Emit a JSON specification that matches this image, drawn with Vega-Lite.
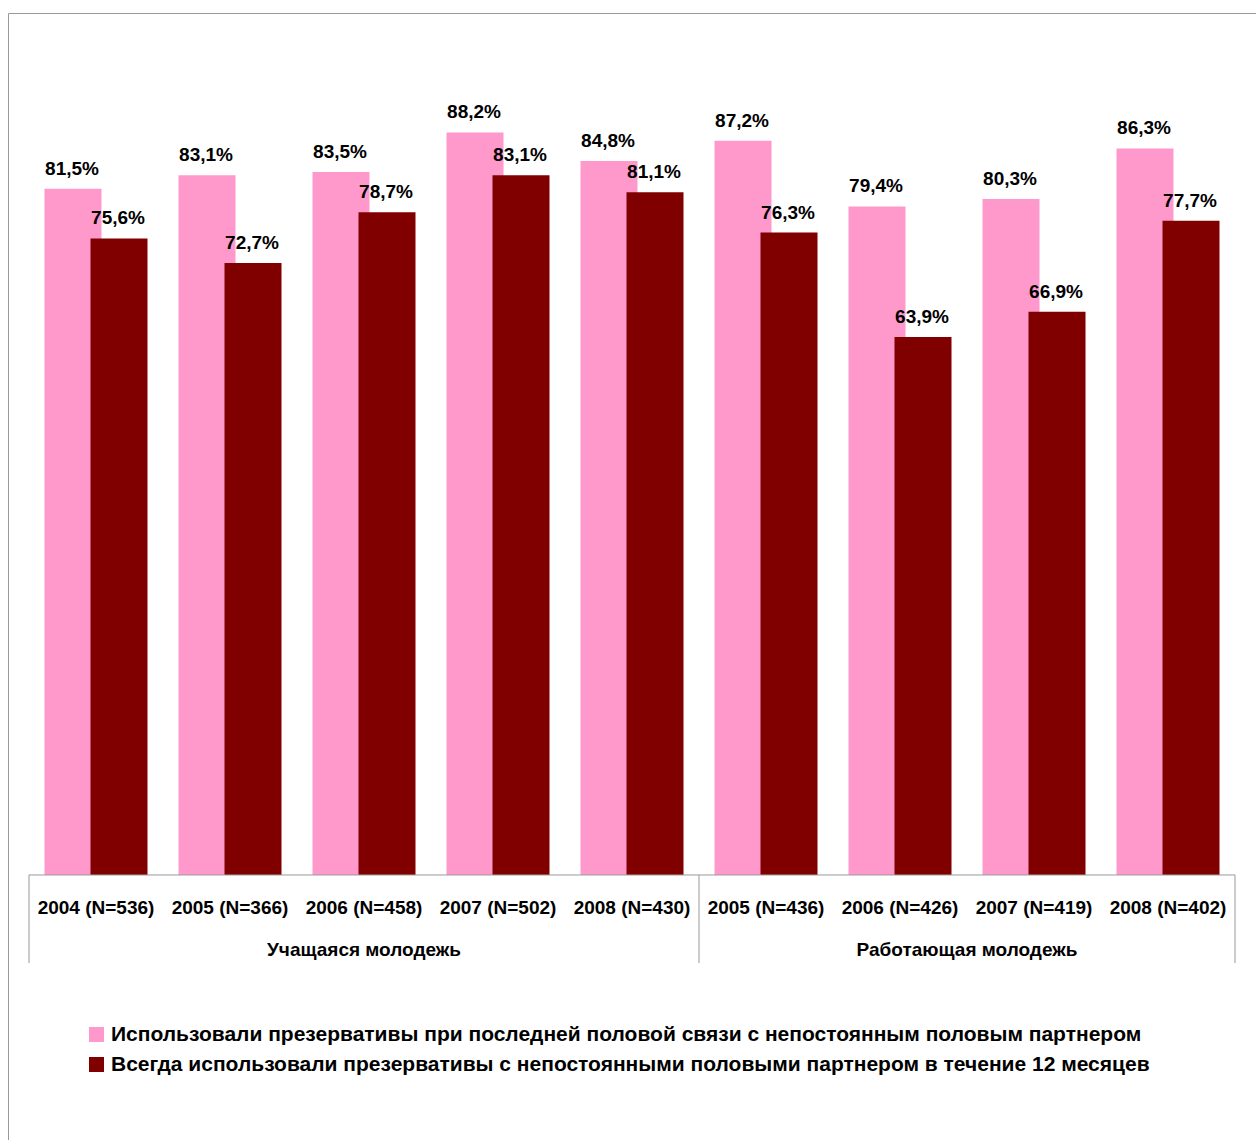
{
  "$schema": "https://vega.github.io/schema/vega-lite/v6.json",
  "width": 1254,
  "height": 1133,
  "autosize": "none",
  "padding": {"left": 8, "top": 13, "right": -6, "bottom": -6},
  "background": "white",
  "config": {
    "locale": {"number": {"decimal": ",", "thousands": " ", "grouping": [3], "currency": ["", ""]}},
    "view": {"stroke": "#999999", "strokeWidth": 1},
    "font": "Liberation Sans, Arial, sans-serif",
    "text": {"fontSize": 19, "fontWeight": "bold", "color": "#000000"}
  },
  "datasets": {
    "bars": [
      {"cat": "2004 (N=536)", "group": "Учащаяся молодежь", "series": "Использовали презервативы при последней половой связи с непостоянным половым партнером", "value": 0.815},
      {"cat": "2005 (N=366)", "group": "Учащаяся молодежь", "series": "Использовали презервативы при последней половой связи с непостоянным половым партнером", "value": 0.831},
      {"cat": "2006 (N=458)", "group": "Учащаяся молодежь", "series": "Использовали презервативы при последней половой связи с непостоянным половым партнером", "value": 0.835},
      {"cat": "2007 (N=502)", "group": "Учащаяся молодежь", "series": "Использовали презервативы при последней половой связи с непостоянным половым партнером", "value": 0.882},
      {"cat": "2008 (N=430)", "group": "Учащаяся молодежь", "series": "Использовали презервативы при последней половой связи с непостоянным половым партнером", "value": 0.848},
      {"cat": "2005 (N=436)", "group": "Работающая молодежь", "series": "Использовали презервативы при последней половой связи с непостоянным половым партнером", "value": 0.872},
      {"cat": "2006 (N=426)", "group": "Работающая молодежь", "series": "Использовали презервативы при последней половой связи с непостоянным половым партнером", "value": 0.794},
      {"cat": "2007 (N=419)", "group": "Работающая молодежь", "series": "Использовали презервативы при последней половой связи с непостоянным половым партнером", "value": 0.803},
      {"cat": "2008 (N=402)", "group": "Работающая молодежь", "series": "Использовали презервативы при последней половой связи с непостоянным половым партнером", "value": 0.863},
      {"cat": "2004 (N=536)", "group": "Учащаяся молодежь", "series": "Всегда использовали презервативы с непостоянными половыми партнером в течение 12 месяцев", "value": 0.756},
      {"cat": "2005 (N=366)", "group": "Учащаяся молодежь", "series": "Всегда использовали презервативы с непостоянными половыми партнером в течение 12 месяцев", "value": 0.727},
      {"cat": "2006 (N=458)", "group": "Учащаяся молодежь", "series": "Всегда использовали презервативы с непостоянными половыми партнером в течение 12 месяцев", "value": 0.787},
      {"cat": "2007 (N=502)", "group": "Учащаяся молодежь", "series": "Всегда использовали презервативы с непостоянными половыми партнером в течение 12 месяцев", "value": 0.831},
      {"cat": "2008 (N=430)", "group": "Учащаяся молодежь", "series": "Всегда использовали презервативы с непостоянными половыми партнером в течение 12 месяцев", "value": 0.811},
      {"cat": "2005 (N=436)", "group": "Работающая молодежь", "series": "Всегда использовали презервативы с непостоянными половыми партнером в течение 12 месяцев", "value": 0.763},
      {"cat": "2006 (N=426)", "group": "Работающая молодежь", "series": "Всегда использовали презервативы с непостоянными половыми партнером в течение 12 месяцев", "value": 0.639},
      {"cat": "2007 (N=419)", "group": "Работающая молодежь", "series": "Всегда использовали презервативы с непостоянными половыми партнером в течение 12 месяцев", "value": 0.669},
      {"cat": "2008 (N=402)", "group": "Работающая молодежь", "series": "Всегда использовали презервативы с непостоянными половыми партнером в течение 12 месяцев", "value": 0.777}
    ],
    "groups": [
      {"group": "Учащаяся молодежь"},
      {"group": "Работающая молодежь"}
    ]
  },
  "data": {"name": "bars"},
  "layer": [
    {
      "transform": [{"filter": "datum.series === 'Использовали презервативы при последней половой связи с непостоянным половым партнером'"}],
      "mark": {"type": "bar", "width": 57, "xOffset": -23},
      "encoding": {
        "x": {
          "field": "cat", "type": "nominal", "sort": null,
          "scale": {"domain": ["2004 (N=536)", "2005 (N=366)", "2006 (N=458)", "2007 (N=502)", "2008 (N=430)", "2005 (N=436)", "2006 (N=426)", "2007 (N=419)", "2008 (N=402)"], "paddingInner": 0, "paddingOuter": 0.1791, "align": 0.4375},
          "axis": {"orient": "bottom", "offset": -271, "domain": false, "ticks": false, "grid": false, "labelAngle": 0, "labelFontSize": 19, "labelFontWeight": "bold", "labelColor": "#000000", "labelPadding": 23, "labelLimit": 0, "title": null}
        },
        "y": {"field": "value", "type": "quantitative", "scale": {"domain": [-0.3219, 1.0238], "nice": false, "zero": false}, "axis": null},
        "y2": {"datum": 0},
        "color": {
          "field": "series", "type": "nominal",
          "scale": {"domain": ["Использовали презервативы при последней половой связи с непостоянным половым партнером", "Всегда использовали презервативы с непостоянными половыми партнером в течение 12 месяцев"], "range": ["#FF99CC", "#800000"]},
          "legend": {"orient": "none", "legendX": 78, "legendY": 1011, "title": null, "symbolType": "square", "symbolSize": 225, "symbolStrokeWidth": 0, "labelFontSize": 21, "labelFontWeight": "bold", "labelColor": "#000000", "labelLimit": 1200, "rowPadding": 8, "labelOffset": 4, "direction": "vertical"}
        }
      }
    },
    {
      "transform": [{"filter": "datum.series === 'Всегда использовали презервативы с непостоянными половыми партнером в течение 12 месяцев'"}],
      "mark": {"type": "bar", "width": 57, "xOffset": 23},
      "encoding": {
        "x": {"field": "cat", "type": "nominal", "sort": null},
        "y": {"field": "value", "type": "quantitative"},
        "y2": {"datum": 0},
        "color": {"field": "series", "type": "nominal"}
      }
    },
    {
      "transform": [{"filter": "datum.series === 'Использовали презервативы при последней половой связи с непостоянным половым партнером'"}],
      "mark": {"type": "text", "xOffset": -24, "dy": -14, "baseline": "alphabetic", "align": "center"},
      "encoding": {
        "x": {"field": "cat", "type": "nominal", "sort": null},
        "y": {"field": "value", "type": "quantitative"},
        "text": {"field": "value", "type": "quantitative", "format": ".1%"}
      }
    },
    {
      "transform": [{"filter": "datum.series === 'Всегда использовали презервативы с непостоянными половыми партнером в течение 12 месяцев'"}],
      "mark": {"type": "text", "xOffset": 22, "dy": -14, "baseline": "alphabetic", "align": "center"},
      "encoding": {
        "x": {"field": "cat", "type": "nominal", "sort": null},
        "y": {"field": "value", "type": "quantitative"},
        "text": {"field": "value", "type": "quantitative", "format": ".1%"}
      }
    },
    {
      "data": {"values": [{}]},
      "mark": {"type": "rule", "color": "#999999", "strokeWidth": 1},
      "encoding": {
        "x": {"datum": "2004 (N=536)", "type": "nominal", "bandPosition": 0},
        "x2": {"datum": "2008 (N=402)", "bandPosition": 1},
        "y": {"datum": 0, "type": "quantitative"}
      }
    },
    {
      "data": {"values": [{}]},
      "mark": {"type": "rule", "color": "#999999", "strokeWidth": 1},
      "encoding": {
        "x": {"datum": "2004 (N=536)", "type": "nominal", "bandPosition": 0},
        "y": {"datum": 0, "type": "quantitative"},
        "y2": {"datum": -0.1045}
      }
    },
    {
      "data": {"values": [{}]},
      "mark": {"type": "rule", "color": "#999999", "strokeWidth": 1},
      "encoding": {
        "x": {"datum": "2005 (N=436)", "type": "nominal", "bandPosition": 0},
        "y": {"datum": 0, "type": "quantitative"},
        "y2": {"datum": -0.1045}
      }
    },
    {
      "data": {"values": [{}]},
      "mark": {"type": "rule", "color": "#999999", "strokeWidth": 1},
      "encoding": {
        "x": {"datum": "2008 (N=402)", "type": "nominal", "bandPosition": 1},
        "y": {"datum": 0, "type": "quantitative"},
        "y2": {"datum": -0.1045}
      }
    },
    {
      "data": {"name": "groups"},
      "transform": [{"filter": "datum.group === 'Учащаяся молодежь'"}],
      "mark": {"type": "text", "baseline": "middle", "align": "center"},
      "encoding": {
        "x": {"datum": "2006 (N=458)", "type": "nominal", "bandPosition": 0.5},
        "y": {"datum": -0.0891, "type": "quantitative"},
        "text": {"field": "group"}
      }
    },
    {
      "data": {"name": "groups"},
      "transform": [{"filter": "datum.group === 'Работающая молодежь'"}],
      "mark": {"type": "text", "baseline": "middle", "align": "center"},
      "encoding": {
        "x": {"datum": "2007 (N=419)", "type": "nominal", "bandPosition": 0},
        "y": {"datum": -0.0891, "type": "quantitative"},
        "text": {"field": "group"}
      }
    }
  ]
}
